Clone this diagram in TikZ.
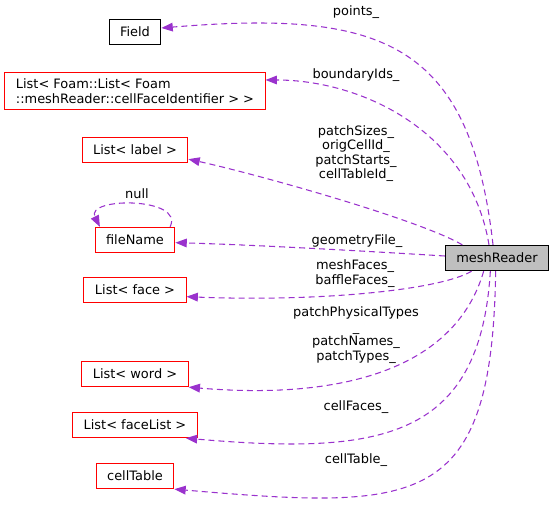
\documentclass[tikz,border=0pt]{standalone}
\usepackage{fontspec}
\setmainfont{DejaVu Sans}
\usetikzlibrary{arrows.meta}
\definecolor{edgepurple}{HTML}{9A32CD}
\definecolor{boxred}{HTML}{FF0000}
\definecolor{boxgray}{HTML}{BFBFBF}

\begin{document}
\begin{tikzpicture}[x=0.75pt,y=-0.75pt,
    font=\fontsize{9.7pt}{10.9pt}\selectfont,
    cls/.style={draw=boxred,line width=0.75pt,inner xsep=8.25pt,minimum height=19pt},
    dep/.style={draw=edgepurple,line width=0.8pt,dash pattern=on 4.5pt off 3pt,
        -{Triangle[length=8.5pt,width=6.5pt,fill=edgepurple]}},
    lbl/.style={align=center,inner sep=0pt}]
    \useasboundingbox (0,0) rectangle (555,509);

    % classes
    \node[cls,draw=black] (field) at (135,32) {Field};
    \node[cls,align=left,inner ysep=4.5pt] (lfl) at (135,91) {List< Foam::List< Foam\\::meshReader::cellFaceIdentifier > >};
    \node[cls] (llabel) at (135,150) {List< label >};
    \node[cls] (fname) at (135,240) {fileName};
    \node[cls] (lface) at (135,290) {List< face >};
    \node[cls] (lword) at (135,374) {List< word >};
    \node[cls] (lflist) at (135,425) {List< faceList >};
    \node[cls] (ctable) at (135,476) {cellTable};
    \node[cls,draw=black,fill=boxgray] (mr) at (497,258) {meshReader};

    % members
    \draw[dep] ([xshift=-3pt]mr.north) .. controls (470,40) and (380,10) .. ([yshift=3pt]field.east);
    \draw[dep] ([xshift=-6pt]mr.north) .. controls (470,130) and (360,80) .. ([yshift=8.25pt]lfl.east);
    \draw[dep] ([xshift=-26pt]mr.north) .. controls (420,220) and (260,175) .. ([yshift=3pt]llabel.south east);
    \draw[dep] ([yshift=1.5pt]mr.west) .. controls (380,252) and (260,245) .. ([yshift=-2pt]fname.east);
    \draw[dep] ([xshift=-19pt]mr.south) .. controls (440,290) and (320,302) .. ([yshift=-5pt]lface.east);
    \draw[dep] ([xshift=-10pt]mr.south) .. controls (455,370) and (340,400) .. (lword.south east);
    \draw[dep] ([xshift=-5pt]mr.south) .. controls (480,440) and (380,455) .. ([xshift=-9pt]lflist.south east);
    \draw[dep] ([xshift=-1pt]mr.south) .. controls (492,510) and (420,510) .. (ctable.south east);
    \draw[dep] ([xshift=-4pt]fname.north east) .. controls +(15,-30) and +(-15,-30) .. ([xshift=4pt]fname.north west);

    % labels
    \node[lbl] (tpoints) at (356,12) {points\_};
    \node[lbl] (tbound) at (356,75) {boundaryIds\_};
    \node[lbl] (tsizes) at (356,153.5) {patchSizes\_\\origCellId\_\\patchStarts\_\\cellTableId\_};
    \node[lbl] (tgeom) at (357,241) {geometryFile\_};
    \node[lbl] (tfaces) at (355,273.5) {meshFaces\_\\baffleFaces\_};
    \node[lbl] (tpatch) at (356,335) {patchPhysicalTypes\\\_\\patchNames\_\\patchTypes\_};
    \node[lbl] (tcellf) at (356,407) {cellFaces\_};
    \node[lbl] (tcellt) at (356,460) {cellTable\_};
    \node[lbl] (tnull) at (137,194) {null};
\end{tikzpicture}
\end{document}
